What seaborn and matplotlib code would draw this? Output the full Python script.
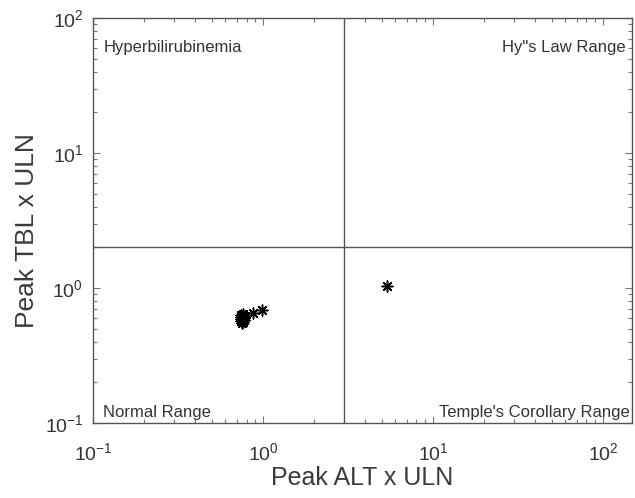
import matplotlib
matplotlib.use("Agg")
import matplotlib.pyplot as plt
import seaborn as sns
import pandas as pd
from matplotlib.ticker import LogLocator, NullFormatter

# Data (peak ALT x ULN, peak TBL x ULN)
alt_uln = [0.74, 0.75, 0.76, 0.75, 0.74, 0.77, 0.76, 0.75, 0.74, 0.76, 0.77,
           0.75, 0.74, 0.76, 0.78, 0.75, 0.87, 0.99, 5.4]
tbl_uln = [0.57, 0.60, 0.62, 0.55, 0.63, 0.58, 0.56, 0.61, 0.59, 0.64, 0.60,
           0.57, 0.61, 0.59, 0.62, 0.58, 0.65, 0.69, 1.04]
alt_threshold = 3
tbl_threshold = 2
quadrant_labels = ["Hyperbilirubinemia", "Hy\"s Law Range", "Normal Range", "Temple's Corollary Range"]

df = pd.DataFrame({"ALT": alt_uln, "TBL": tbl_uln})

sns.set_style("white")
plt.rcParams['font.family'] = ['Liberation Sans', 'DejaVu Sans']
plt.rcParams['mathtext.fontset'] = 'custom'
plt.rcParams['mathtext.rm'] = 'Liberation Sans'
plt.rcParams['mathtext.it'] = 'Liberation Sans'

fig = plt.figure(figsize=(6.35, 4.98), dpi=100)
ax = fig.add_axes([0.1465, 0.1506, 0.8485, 0.8134])

sns.scatterplot(data=df, x="ALT", y="TBL", ax=ax, marker=(8, 2, 0), s=60,
                color="black", edgecolor="black", linewidth=1.1, legend=False)

ax.set_xscale("log")
ax.set_yscale("log")
ax.set_xlim(0.1, 148)
ax.set_ylim(0.1, 100)

ax.axvline(alt_threshold, color="#555555", lw=1.0)
ax.axhline(tbl_threshold, color="#555555", lw=1.0)

ax.xaxis.set_major_locator(LogLocator(base=10, numticks=10))
ax.yaxis.set_major_locator(LogLocator(base=10, numticks=10))
ax.xaxis.set_minor_locator(LogLocator(base=10, subs=range(2, 10), numticks=20))
ax.yaxis.set_minor_locator(LogLocator(base=10, subs=range(2, 10), numticks=20))
ax.xaxis.set_minor_formatter(NullFormatter())
ax.yaxis.set_minor_formatter(NullFormatter())

ax.tick_params(which="both", direction="in", bottom=True, left=True, top=True, right=True,
               color="#777777", labelcolor="#333333", width=0.8)
ax.tick_params(which="major", length=5, labelsize=14)
ax.tick_params(which="minor", length=3)
ax.tick_params(axis="x", which="major", pad=14)
ax.tick_params(axis="y", which="major", pad=7)

for s in ax.spines.values():
    s.set_color("#555555")
    s.set_linewidth(1.0)

ax.set_xlabel("Peak ALT x ULN", fontsize=18, color="#3a3a3a", labelpad=1)
ax.set_ylabel("Peak TBL x ULN", fontsize=19, color="#3a3a3a")
ax.yaxis.set_label_coords(-0.10, 0.475)

tc = "#333333"
fs = 12
ax.text(0.019, 0.926, quadrant_labels[0], transform=ax.transAxes, fontsize=fs,
        ha="left", va="center", color=tc)
ax.text(0.988, 0.926, quadrant_labels[1], transform=ax.transAxes, fontsize=fs,
        ha="right", va="center", color=tc)
ax.text(0.019, 0.027, quadrant_labels[2], transform=ax.transAxes, fontsize=fs,
        ha="left", va="center", color=tc)
ax.text(0.997, 0.027, quadrant_labels[3], transform=ax.transAxes, fontsize=fs,
        ha="right", va="center", color=tc)

fig.savefig("out.png", dpi=100)
